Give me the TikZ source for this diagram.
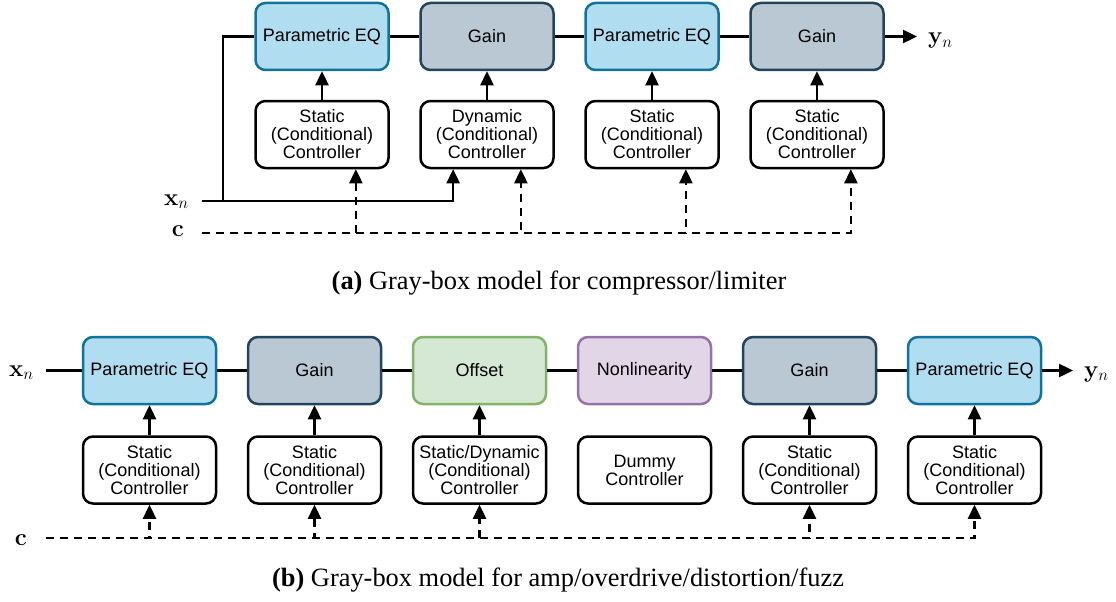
\RequirePackage{fix-cm}
\documentclass[tikz,border=0pt]{standalone}
\usepackage{amsmath,amssymb}
\usepackage[no-math]{fontspec}
\setmainfont{Liberation Serif}
\newfontfamily\blockfont{Liberation Sans}
\usepackage{tikz}
\usetikzlibrary{arrows.meta, calc}

\definecolor{eqfill}{HTML}{B1DDF0}
\definecolor{eqdraw}{HTML}{10739E}
\definecolor{gainfill}{HTML}{BAC8D3}
\definecolor{gaindraw}{HTML}{23445D}
\definecolor{offfill}{HTML}{D5E8D4}
\definecolor{offdraw}{HTML}{82B366}
\definecolor{nlfill}{HTML}{E1D5E7}
\definecolor{nldraw}{HTML}{9673A6}

\tikzset{
    block/.style={rectangle, rounded corners=10pt, line width=2.5pt,
        minimum width=133pt, minimum height=67pt, inner sep=0pt,
        align=center, font=\blockfont\fontsize{18}{18}\selectfont},
    eqblock/.style={block, draw=eqdraw, fill=eqfill},
    gainblock/.style={block, draw=gaindraw, fill=gainfill},
    offblock/.style={block, draw=offdraw, fill=offfill},
    nlblock/.style={block, draw=nldraw, fill=nlfill},
    ctrl/.style={block, draw=black, fill=white},
    wire/.style={line width=2.4pt},
    arr/.style={wire, -{Triangle[length=14pt,width=13pt]}},
    condarr/.style={arr, dash pattern=on 8pt off 6pt},
    sig/.style={inner sep=0pt, font=\fontsize{24}{24}\selectfont},
    caption/.style={inner sep=0pt, font=\fontsize{26.4}{28}\selectfont}
}

\begin{document}
\begin{tikzpicture}[x=1pt, y=-1pt]
        \useasboundingbox (0,0) rectangle (1116,602);

        % (a) compressor/limiter
        \node[eqblock] (eqA1) at (322,36.5) {Parametric EQ};
        \node[gainblock] (gainA1) at (487,36.5) {Gain};
        \node[eqblock] (eqA2) at (652,36.5) {Parametric EQ};
        \node[gainblock] (gainA2) at (817,36.5) {Gain};

        \node[ctrl] (ctlA1) at (322,134.5) {Static\\(Conditional)\\Controller};
        \node[ctrl] (ctlA2) at (487,134.5) {Dynamic\\(Conditional)\\Controller};
        \node[ctrl] (ctlA3) at (652,134.5) {Static\\(Conditional)\\Controller};
        \node[ctrl] (ctlA4) at (817,134.5) {Static\\(Conditional)\\Controller};

        \node[sig, anchor=base east] (xA) at (189,205) {$\mathbf{x}_n$};
        \node[sig, anchor=base east] (cA) at (184,236) {$\mathbf{c}$};
        \node[sig, anchor=base west] (yA) at (928,43.5) {$\mathbf{y}_n$};

        \coordinate (xA0) at (202,201);
        \coordinate (splitA) at (223,201);
        \coordinate (cA0) at (202,233);
        \coordinate (yA0) at (917,36.5);

        \draw[wire] (eqA1) -- (gainA1) -- (eqA2) -- (gainA2);
        \draw[arr] (gainA2) -- (yA0);
        \draw[wire] (xA0) -- (splitA) |- (eqA1.west);
        \draw[arr] (splitA) -| ($(ctlA2.south)!0.5!(ctlA2.south west)$);

        \draw[arr] (ctlA1) -- (eqA1);
        \draw[arr] (ctlA2) -- (gainA1);
        \draw[arr] (ctlA3) -- (eqA2);
        \draw[arr] (ctlA4) -- (gainA2);

        \draw[condarr] (cA0) -| ($(ctlA1.south)!0.5!(ctlA1.south east)$);
        \draw[condarr] (cA0) -| ($(ctlA2.south)!0.5!(ctlA2.south east)$);
        \draw[condarr] (cA0) -| ($(ctlA3.south)!0.5!(ctlA3.south east)$);
        \draw[condarr] (cA0) -| ($(ctlA4.south)!0.5!(ctlA4.south east)$);

        \node[caption] (capA) at (559,283) {\textbf{(a)} Gray-box model for compressor/limiter};

        % (b) amp/overdrive/distortion/fuzz
        \node[eqblock] (eqB1) at (149.5,370.5) {Parametric EQ};
        \node[gainblock] (gainB1) at (314.5,370.5) {Gain};
        \node[offblock] (offB) at (479.5,370.5) {Offset};
        \node[nlblock] (nlB) at (644.5,370.5) {Nonlinearity};
        \node[gainblock] (gainB2) at (809.5,370.5) {Gain};
        \node[eqblock] (eqB2) at (974.5,370.5) {Parametric EQ};

        \node[ctrl] (ctlB1) at (149.5,470) {Static\\(Conditional)\\Controller};
        \node[ctrl] (ctlB2) at (314.5,470) {Static\\(Conditional)\\Controller};
        \node[ctrl] (ctlB3) at (479.5,470) {Static/Dynamic\\(Conditional)\\Controller};
        \node[ctrl] (ctlB4) at (644.5,470) {Dummy\\Controller};
        \node[ctrl] (ctlB5) at (809.5,470) {Static\\(Conditional)\\Controller};
        \node[ctrl] (ctlB6) at (974.5,470) {Static\\(Conditional)\\Controller};

        \node[sig, anchor=base east] (xB) at (34,376) {$\mathbf{x}_n$};
        \node[sig, anchor=base east] (cB) at (27,545) {$\mathbf{c}$};
        \node[sig, anchor=base west] (yB) at (1084,377) {$\mathbf{y}_n$};

        \coordinate (xB0) at (46,370.5);
        \coordinate (cB0) at (46,538);
        \coordinate (yB0) at (1073,370.5);

        \draw[wire] (xB0) -- (eqB1);
        \draw[wire] (eqB1) -- (gainB1) -- (offB) -- (nlB) -- (gainB2) -- (eqB2);
        \draw[arr] (eqB2) -- (yB0);

        \draw[arr] (ctlB1) -- (eqB1);
        \draw[arr] (ctlB2) -- (gainB1);
        \draw[arr] (ctlB3) -- (offB);
        \draw[arr] (ctlB5) -- (gainB2);
        \draw[arr] (ctlB6) -- (eqB2);

        \draw[condarr] (cB0) -| (ctlB1.south);
        \draw[condarr] (cB0) -| (ctlB2.south);
        \draw[condarr] (cB0) -| (ctlB3.south);
        \draw[condarr] (cB0) -| (ctlB5.south);
        \draw[condarr] (cB0) -| (ctlB6.south);

        \node[caption] (capB) at (558,580) {\textbf{(b)} Gray-box model for amp/overdrive/distortion/fuzz};
    \end{tikzpicture}
\end{document}
